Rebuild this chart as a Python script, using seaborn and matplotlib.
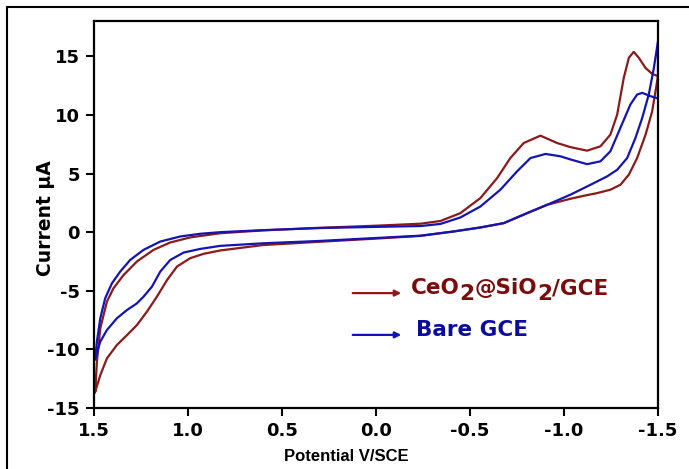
import numpy as np
import pandas as pd
import matplotlib
matplotlib.use("Agg")
import matplotlib.pyplot as plt
import matplotlib.transforms as mtransforms
import seaborn as sns
from matplotlib.patches import Rectangle

# -----------------------------
# Data (potential in V vs SCE, current in uA)
# each loop: upper branch 1.5 -> -1.5, then back along the lower branch
# -----------------------------
ceo2_potential = [1.5, 1.492, 1.483, 1.465, 1.43, 1.395, 1.341, 1.27, 1.182, 1.093, 0.987,
                  0.827, 0.6, 0.3, 0.0, -0.237, -0.343, -0.449, -0.556, -0.645, -0.715,
                  -0.786, -0.875, -0.964, -1.035, -1.123, -1.194, -1.247, -1.283, -1.318,
                  -1.345, -1.371, -1.398, -1.434, -1.469, -1.5,
                  -1.469, -1.434, -1.389, -1.345, -1.3, -1.247, -1.176, -1.105, -1.035,
                  -0.91, -0.804, -0.68, -0.556, -0.414, -0.237, 0.0, 0.3, 0.6, 0.827,
                  0.916, 0.987, 1.057, 1.11, 1.164, 1.217, 1.27, 1.323, 1.377, 1.43,
                  1.465, 1.492, 1.5]
ceo2_current = [-13.8, -13.6, -11.05, -8.2, -5.93, -4.79, -3.65, -2.5, -1.51, -0.88, -0.45,
                -0.09, 0.15, 0.37, 0.55, 0.72, 0.95, 1.62, 2.91, 4.62, 6.32,
                7.6, 8.23, 7.6, 7.25, 6.95, 7.32, 8.32, 10.03, 13.16,
                14.87, 15.38, 14.87, 14.0, 13.5, 13.3,
                10.3, 8.32, 6.32, 4.9, 4.04, 3.62, 3.33, 3.1, 2.85,
                2.33, 1.62, 0.77, 0.4, 0.06, -0.32, -0.55, -0.82, -1.1, -1.56,
                -1.85, -2.22, -2.93, -4.08, -5.5, -6.78, -7.92, -8.78, -9.63, -10.77,
                -12.2, -13.6, -13.8]

bare_potential = [1.5, 1.492, 1.483, 1.465, 1.439, 1.403, 1.359, 1.306, 1.235, 1.146, 1.04,
                  0.934, 0.827, 0.6, 0.3, 0.0, -0.237, -0.343, -0.449, -0.556, -0.662,
                  -0.751, -0.822, -0.902, -0.981, -1.035, -1.123, -1.194, -1.247, -1.3,
                  -1.353, -1.389, -1.416, -1.46, -1.5,
                  -1.5, -1.478, -1.451, -1.416, -1.38, -1.336, -1.283, -1.23, -1.141,
                  -1.035, -0.91, -0.804, -0.68, -0.556, -0.414, -0.237, 0.0, 0.3, 0.6,
                  0.827, 0.934, 1.022, 1.093, 1.146, 1.19, 1.235, 1.27, 1.323, 1.377,
                  1.43, 1.465, 1.492, 1.5]
bare_current = [-11.0, -10.77, -9.34, -7.35, -5.64, -4.36, -3.36, -2.37, -1.51, -0.8, -0.37,
                -0.14, 0.0, 0.17, 0.35, 0.45, 0.52, 0.7, 1.25, 2.19, 3.62,
                5.19, 6.32, 6.67, 6.47, 6.2, 5.8, 6.04, 6.9, 8.89,
                10.88, 11.74, 11.88, 11.6, 11.4,
                16.3, 14.0, 11.74, 9.74, 8.03, 6.32, 5.32, 4.76, 4.04,
                3.2, 2.33, 1.62, 0.77, 0.4, 0.06, -0.3, -0.5, -0.75, -0.95,
                -1.17, -1.43, -1.74, -2.37, -3.36, -4.64, -5.5, -6.07, -6.64, -7.35,
                -8.35, -9.34, -10.77, -11.0]

# legend text pieces: (text, lowered?)
ceo2_label = [("CeO", False), ("2", True), ("@SiO", False), ("2", True), ("/GCE", False)]
bare_label = [("Bare GCE", False)]
line_colors = ["#8b1a1a", "#1414b4"]
text_colors = ["#7a0c0c", "#0c0c9c"]

df = pd.concat([
    pd.DataFrame({"Potential": ceo2_potential, "Current": ceo2_current, "Electrode": "ceo2"}),
    pd.DataFrame({"Potential": bare_potential, "Current": bare_current, "Electrode": "bare"}),
], ignore_index=True)

# -----------------------------
# Plot
# -----------------------------
sns.set_theme(style="ticks")
plt.rcParams["font.family"] = ["DejaVu Sans"]
plt.rcParams["axes.unicode_minus"] = False
plt.rcParams["text.color"] = "black"
plt.rcParams["axes.labelcolor"] = "black"

fig = plt.figure(figsize=(6.89, 4.69), dpi=100)
ax = fig.add_axes([0.136, 0.130, 0.819, 0.825])

sns.lineplot(data=df, x="Potential", y="Current", hue="Electrode",
             estimator=None, sort=False, palette={"ceo2": line_colors[0], "bare": line_colors[1]},
             linewidth=1.6, legend=False, ax=ax)
for ln in ax.get_lines():
    ln.set_solid_joinstyle("round")
    ln.set_solid_capstyle("round")

ax.set_xlim(1.5, -1.5)
ax.set_ylim(-15, 18)
ax.set_xticks([1.5, 1.0, 0.5, 0.0, -0.5, -1.0, -1.5])
ax.set_yticks([-15, -10, -5, 0, 5, 10, 15])
ax.set_xticklabels(["1.5", "1.0", "0.5", "0.0", "-0.5", "-1.0", "-1.5"])

for s in ax.spines.values():
    s.set_linewidth(1.6)
    s.set_color("black")
ax.tick_params(direction="out", length=6, width=1.5, labelsize=13, pad=4, colors="black")
for t in ax.get_xticklabels() + ax.get_yticklabels():
    t.set_fontweight("bold")

ax.set_xlabel("Potential V/SCE", fontsize=12, fontweight="bold", family="Liberation Sans")
ax.set_ylabel("Current μA", fontsize=13.5, fontweight="bold")
ax.xaxis.set_label_coords(0.447, -0.105)
ax.yaxis.set_label_coords(-0.068, 0.49)

# arrow "legend"
arrow_y = [0.297, 0.189]
text_x = [0.562, 0.571]
renderer = fig.canvas.get_renderer()
for i, pieces in enumerate([ceo2_label, bare_label]):
    ax.annotate("", xy=(0.545, arrow_y[i]), xytext=(0.459, arrow_y[i]), xycoords="axes fraction",
                arrowprops=dict(arrowstyle="-|>", color=line_colors[i], lw=1.6,
                                mutation_scale=9, shrinkA=0, shrinkB=0))
    dx = 0.0
    for txt, low in pieces:
        tr = mtransforms.offset_copy(ax.transAxes, fig=fig, x=dx, y=-6 if low else 0, units="dots")
        t = ax.text(text_x[i], arrow_y[i] + 0.012, txt, transform=tr, fontsize=15.5,
                    fontweight="bold", color=text_colors[i], va="center", ha="left")
        t.draw(renderer)
        dx += t.get_window_extent(renderer).width

# outer frame of the original figure
fig.patches.append(Rectangle((0.010, -0.2), 1.5, 1.185, transform=fig.transFigure,
                             fill=False, edgecolor="black", linewidth=1.5))

fig.savefig("out.png", dpi=100)
